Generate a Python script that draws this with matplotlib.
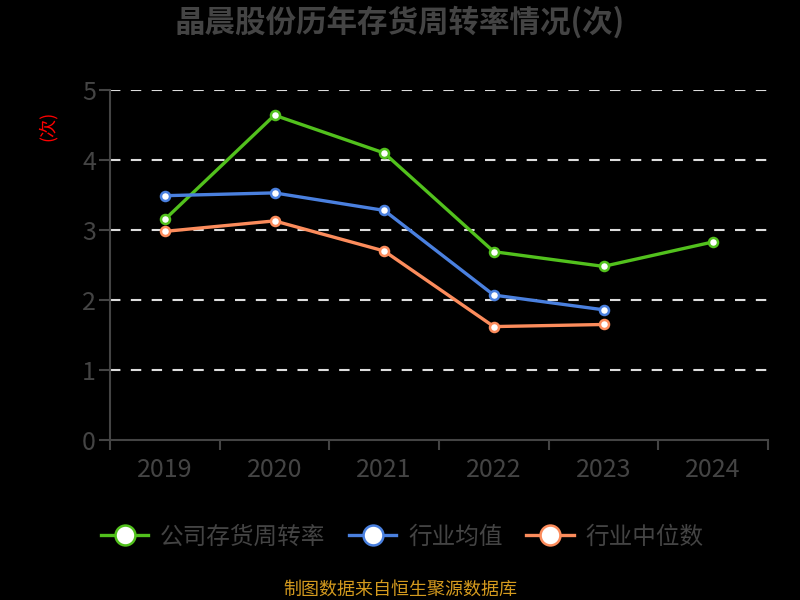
import numpy as np
import matplotlib.pyplot as plt

plt.rcParams['font.family'] = ['Noto Sans CJK SC', 'DejaVu Sans']

years = ['2019', '2020', '2021', '2022', '2023', '2024']
company = [3.15, 4.64, 4.10, 2.69, 2.48, 2.83]
ind_mean = [3.49, 3.53, 3.28, 2.07, 1.86]
ind_median = [2.98, 3.13, 2.70, 1.62, 1.65]

fig = plt.figure(figsize=(8, 6), dpi=100, facecolor='black')
ax = fig.add_axes([0.1375, 0.2667, 0.8225, 0.5833], facecolor='black')

x = np.arange(len(years))
series = [
    (company, '#52c11d', '公司存货周转率'),
    (ind_mean, '#4a80df', '行业均值'),
    (ind_median, '#fc8c5c', '行业中位数'),
]
handles = []
for vals, col, name in series:
    ln, = ax.plot(x[:len(vals)], vals, color=col, lw=2.4, marker='o', ms=6.5,
                  mfc='white', mec=col, mew=1.8, label=name, zorder=3)
    handles.append(ln)

ax.set_xlim(-0.5, 5.5)
ax.set_ylim(0, 5)
ax.set_yticks([0, 1, 2, 3, 4, 5])
for v in [1, 2, 3, 4, 5]:
    ax.axhline(v, color='#dddddd', lw=1.5, ls=(0, (5, 5)), zorder=1)

ax.set_xticks(x)
ax.set_xticklabels(years)
ax.set_xticks(np.arange(-0.5, 6.0, 1.0), minor=True)
ax.tick_params(axis='x', which='major', length=0, pad=12, labelsize=18, labelcolor='#444444')
ax.tick_params(axis='x', which='minor', length=7, width=1.5, color='#444444', direction='out')
ax.tick_params(axis='y', length=8, width=1.5, color='#444444', labelsize=18,
               labelcolor='#444444', pad=2)

for s in ['top', 'right']:
    ax.spines[s].set_visible(False)
for s in ['left', 'bottom']:
    ax.spines[s].set_color('#444444')
    ax.spines[s].set_linewidth(1.5)

fig.text(0.5, 0.962, '晶晨股份历年存货周转率情况(次)', ha='center', va='center',
         fontsize=22, fontweight='bold', color='#444444')
fig.text(0.06, 0.79, '(次)', ha='center', va='center', rotation=90,
         fontsize=13, color='red')

leg = fig.legend(handles=handles, loc='center left', bbox_to_anchor=(0.1, 0.105),
                 ncol=3, frameon=False, fontsize=17, handlelength=2.0,
                 columnspacing=1.0, handletextpad=0.5, markerscale=2.2,
                 labelcolor='#444444')

fig.text(0.5, 0.017, '制图数据来自恒生聚源数据库', ha='center', va='center',
         fontsize=13, color='#d49a1e')

fig.savefig('out.png', dpi=100, facecolor='black')
